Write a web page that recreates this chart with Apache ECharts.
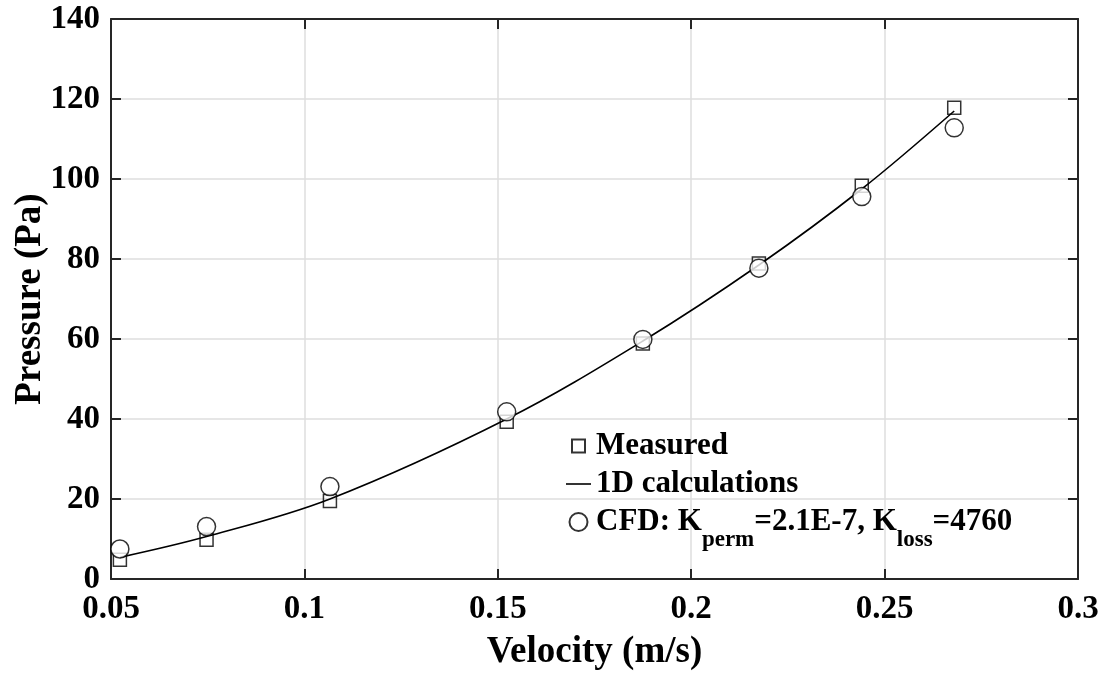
<!DOCTYPE html>
<html>
<head>
<meta charset="utf-8">
<script src="https://cdn.jsdelivr.net/npm/echarts@6/dist/echarts.min.js"></script>
<style>
  html, body { margin: 0; padding: 0; background: #fff; }
  #chart { width: 1102px; height: 674px; }
</style>
</head>
<body>
<div id="chart"></div>
<script>
// Pressure drop vs. superficial velocity
const velocity = [0.0523, 0.0747, 0.1066, 0.1523, 0.1875, 0.2175, 0.2441, 0.268];
const measured = [4.8, 9.8, 19.5, 39.3, 58.9, 78.9, 98.3, 117.8];
const calc1D = [5.4, 10.6, 20.0, 40.0, 59.5, 78.5, 97.5, 117.0];
const cfd = [7.5, 13.1, 23.1, 41.8, 59.9, 77.7, 95.6, 112.8];

const seriesNames = ['Measured', '1D calculations', 'CFD'];
const xTitle = 'Velocity (m/s)';
const yTitle = 'Pressure (Pa)';

const FONT = '"Liberation Serif", "Times New Roman", serif';
const INK = '#000';
const AXIS = '#262626';
const GRID = '#dedede';

const pairs = (ys) => velocity.map((v, i) => [v, ys[i]]);

const baseAxis = {
  axisLine: { show: true, onZero: false, lineStyle: { color: AXIS, width: 2 } },
  axisTick: { show: true, inside: true, length: 10, lineStyle: { color: AXIS, width: 2 } },
};

const chart = echarts.init(document.getElementById('chart'), null, { renderer: 'canvas' });

chart.setOption({
  backgroundColor: '#fff',
  animation: false,
  grid: { left: 111, right: 24, top: 19, bottom: 95, containLabel: false, outerBoundsMode: 'none' },
  xAxis: [
    Object.assign({}, baseAxis, {
      type: 'value', position: 'bottom',
      min: 0.05, max: 0.3, interval: 0.05,
      name: xTitle, nameLocation: 'middle', nameGap: 55,
      nameTextStyle: { fontFamily: FONT, fontWeight: 'bold', fontSize: 37, color: INK },
      axisLabel: {
        margin: 14, fontFamily: FONT, fontWeight: 'bold', fontSize: 33, color: INK,
        formatter: (v) => String(+v.toFixed(2))
      },
      splitLine: { show: true, lineStyle: { color: GRID, width: 1.5 } }
    }),
    Object.assign({}, baseAxis, {
      type: 'value', position: 'top',
      min: 0.05, max: 0.3, interval: 0.05,
      axisLabel: { show: false }, splitLine: { show: false }
    })
  ],
  yAxis: [
    Object.assign({}, baseAxis, {
      type: 'value', position: 'left',
      min: 0, max: 140, interval: 20,
      name: yTitle, nameLocation: 'middle', nameGap: 62, nameRotate: 90,
      nameMoveOverlap: false,
      nameTextStyle: { fontFamily: FONT, fontWeight: 'bold', fontSize: 37, color: INK },
      axisLabel: { margin: 11, fontFamily: FONT, fontWeight: 'bold', fontSize: 33, color: INK },
      splitLine: { show: true, lineStyle: { color: GRID, width: 1.5 } }
    }),
    Object.assign({}, baseAxis, {
      type: 'value', position: 'right',
      min: 0, max: 140, interval: 20,
      axisLabel: { show: false }, splitLine: { show: false }
    })
  ],
  legend: {
    orient: 'vertical',
    left: 566, top: 429,
    padding: 0,
    itemWidth: 25, itemHeight: 18,
    itemGap: 4,
    backgroundColor: 'transparent',
    data: [
      { name: seriesNames[0], icon: 'path://M0,0M18,18M2.5,2.5H15.5V15.5H2.5Z' },
      { name: seriesNames[1], icon: 'path://M0,8.2H25V9.8H0Z' },
      { name: seriesNames[2], icon: 'circle' }
    ],
    formatter: (name) => name === 'CFD'
      ? '{m|CFD: K}{s|perm}{m|=2.1E-7, K}{s|loss}{m|=4760}'
      : name,
    textStyle: {
      fontFamily: FONT, fontWeight: 'bold', fontSize: 31, color: INK, lineHeight: 34,
      rich: {
        m: { fontFamily: FONT, fontWeight: 'bold', fontSize: 31, color: INK, lineHeight: 34 },
        s: { fontFamily: FONT, fontWeight: 'bold', fontSize: 23, color: INK, lineHeight: 10,
             padding: [24, 0, 0, 0], verticalAlign: 'top' }
      }
    }
  },
  series: [
    {
      name: seriesNames[0], type: 'scatter', z: 2,
      data: pairs(measured),
      symbol: 'rect', symbolSize: 13,
      itemStyle: { color: 'rgba(255,255,255,0)', borderColor: INK, borderWidth: 1.5 }
    },
    {
      name: seriesNames[1], type: 'line', z: 3,
      data: pairs(calc1D),
      smooth: 0.35, symbol: 'none', showSymbol: false,
      lineStyle: { color: INK, width: 1.6 },
      itemStyle: { color: INK }
    },
    {
      name: seriesNames[2], type: 'scatter', z: 4,
      data: pairs(cfd),
      symbol: 'circle', symbolSize: 18,
      itemStyle: { color: '#fff', borderColor: INK, borderWidth: 1.5 }
    }
  ]
});
</script>
</body>
</html>
